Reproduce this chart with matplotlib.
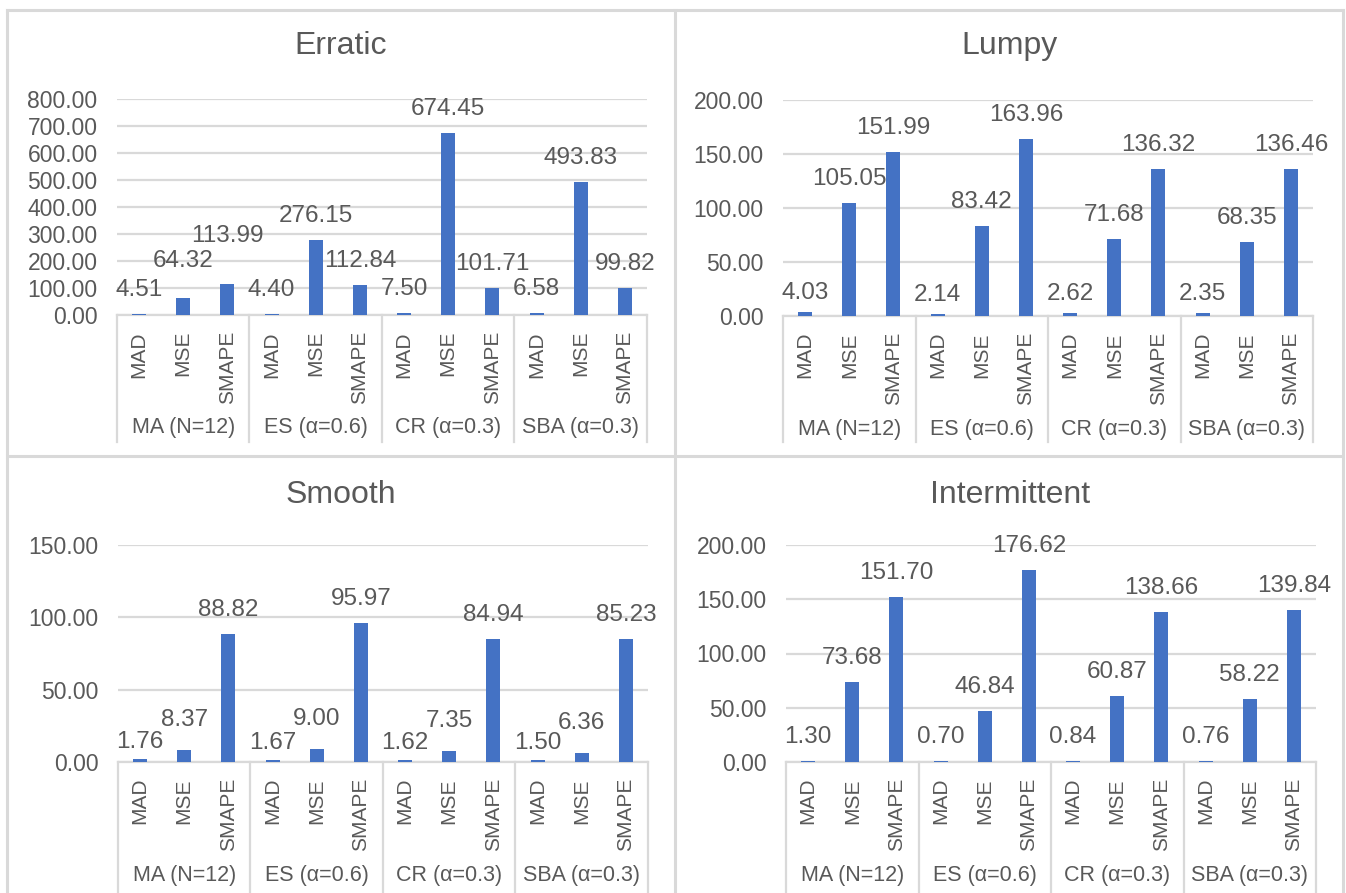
import matplotlib.pyplot as plt
from matplotlib.lines import Line2D

plt.rcParams['font.family'] = ['Liberation Sans', 'DejaVu Sans']

methods = ["MA (N=12)", "ES (α=0.6)", "CR (α=0.3)", "SBA (α=0.3)"]
metrics = ["MAD", "MSE", "SMAPE"]

# values per method, in metric order MAD, MSE, SMAPE
erratic = [4.51, 64.32, 113.99, 4.40, 276.15, 112.84, 7.50, 674.45, 101.71, 6.58, 493.83, 99.82]
lumpy = [4.03, 105.05, 151.99, 2.14, 83.42, 163.96, 2.62, 71.68, 136.32, 2.35, 68.35, 136.46]
smooth = [1.76, 8.37, 88.82, 1.67, 9.00, 95.97, 1.62, 7.35, 84.94, 1.50, 6.36, 85.23]
intermittent = [1.30, 73.68, 151.70, 0.70, 46.84, 176.62, 0.84, 60.87, 138.66, 0.76, 58.22, 139.84]

BAR = "#4472C4"
TXT = "#595959"
LINE = "#D9D9D9"

W, H = 1346, 893
fig = plt.figure(figsize=(W / 100, H / 100), dpi=100)


def px_axes(x0, y0, x1, y1):
    return fig.add_axes([x0 / W, 1 - y1 / H, (x1 - x0) / W, (y1 - y0) / H])


def fig_line(xs, ys):
    fig.add_artist(Line2D([x / W for x in xs], [1 - y / H for y in ys],
                          color=LINE, lw=2.2, transform=fig.transFigure))


# panel frame
fig_line([7, 1343], [10, 10])
fig_line([7, 7], [10, 900])
fig_line([1343, 1343], [10, 900])
fig_line([675, 675], [10, 900])
fig_line([7, 1343], [456, 456])

# nudges (px) for data labels that get pushed apart from their neighbours
erratic_nudge = {1: 13, 2: 24}
lumpy_nudge = {0: -5, 3: -5, 6: -5, 9: -5}
smooth_nudge = {0: -7, 1: 6, 3: -7, 4: 6, 6: -7, 7: 6, 9: -7, 10: 6}

# title, values, ymax, step, plot box (px), title centre (px), bottom of separators (px), label nudges
panels = [
    ("Erratic", erratic, 800, 100, (117, 99, 647, 315), (341, 46), 442, erratic_nudge),
    ("Lumpy", lumpy, 200, 50, (783, 100, 1313, 316), (1009, 46), 442, lumpy_nudge),
    ("Smooth", smooth, 150, 50, (118, 545, 648, 762), (341, 495), 900, smooth_nudge),
    ("Intermittent", intermittent, 200, 50, (786, 545, 1316, 762), (1010, 495), 900, {}),
]

for title, vals, ymax, step, box, tpos, sep_bottom, nudge in panels:
    ax = px_axes(*box)
    h_px = box[3] - box[1]
    xs = list(range(len(vals)))
    ax.bar(xs, vals, width=0.32, color=BAR, zorder=3)
    ax.set_xlim(-0.5, len(vals) - 0.5)
    ax.set_ylim(0, ymax)
    ax.set_yticks(range(0, ymax + 1, step))
    ax.set_yticklabels([f"{t:.2f}" for t in range(0, ymax + 1, step)])
    ax.tick_params(axis='y', length=0, pad=14, labelsize=16.5, labelcolor=TXT)
    ax.set_xticks([])
    ax.grid(axis='y', color=LINE, lw=1.6, zorder=0)
    for s in ['top', 'right', 'left']:
        ax.spines[s].set_visible(False)
    ax.spines['bottom'].set_color(LINE)
    ax.spines['bottom'].set_linewidth(1.6)
    ax.set_facecolor('none')

    tr = ax.get_xaxis_transform()
    # group separators below the axis
    for b in [-0.5, 2.5, 5.5, 8.5, 11.5]:
        ax.plot([b, b], [0, -(sep_bottom - box[3]) / h_px], color=LINE, lw=1.6,
                transform=tr, clip_on=False)
    for i, v in enumerate(vals):
        ax.text(i, -16 / h_px, metrics[i % 3], rotation=90, ha='center', va='top',
                fontsize=15, color=TXT, transform=tr)
        lift = 24 + nudge.get(i, 0)
        ax.annotate(f"{v:.2f}", (i, v), xytext=(0, lift * 0.72), textcoords='offset points',
                    ha='center', va='center', fontsize=17.5, color=TXT)
    for g, m in enumerate(methods):
        ax.text(3 * g + 1, -113 / h_px, m, ha='center', va='center', fontsize=15.5,
                color=TXT, transform=tr)

    fig.text(tpos[0] / W, 1 - tpos[1] / H, title, ha='center', va='center',
             fontsize=23, color=TXT)

fig.savefig("out.png", dpi=100)
